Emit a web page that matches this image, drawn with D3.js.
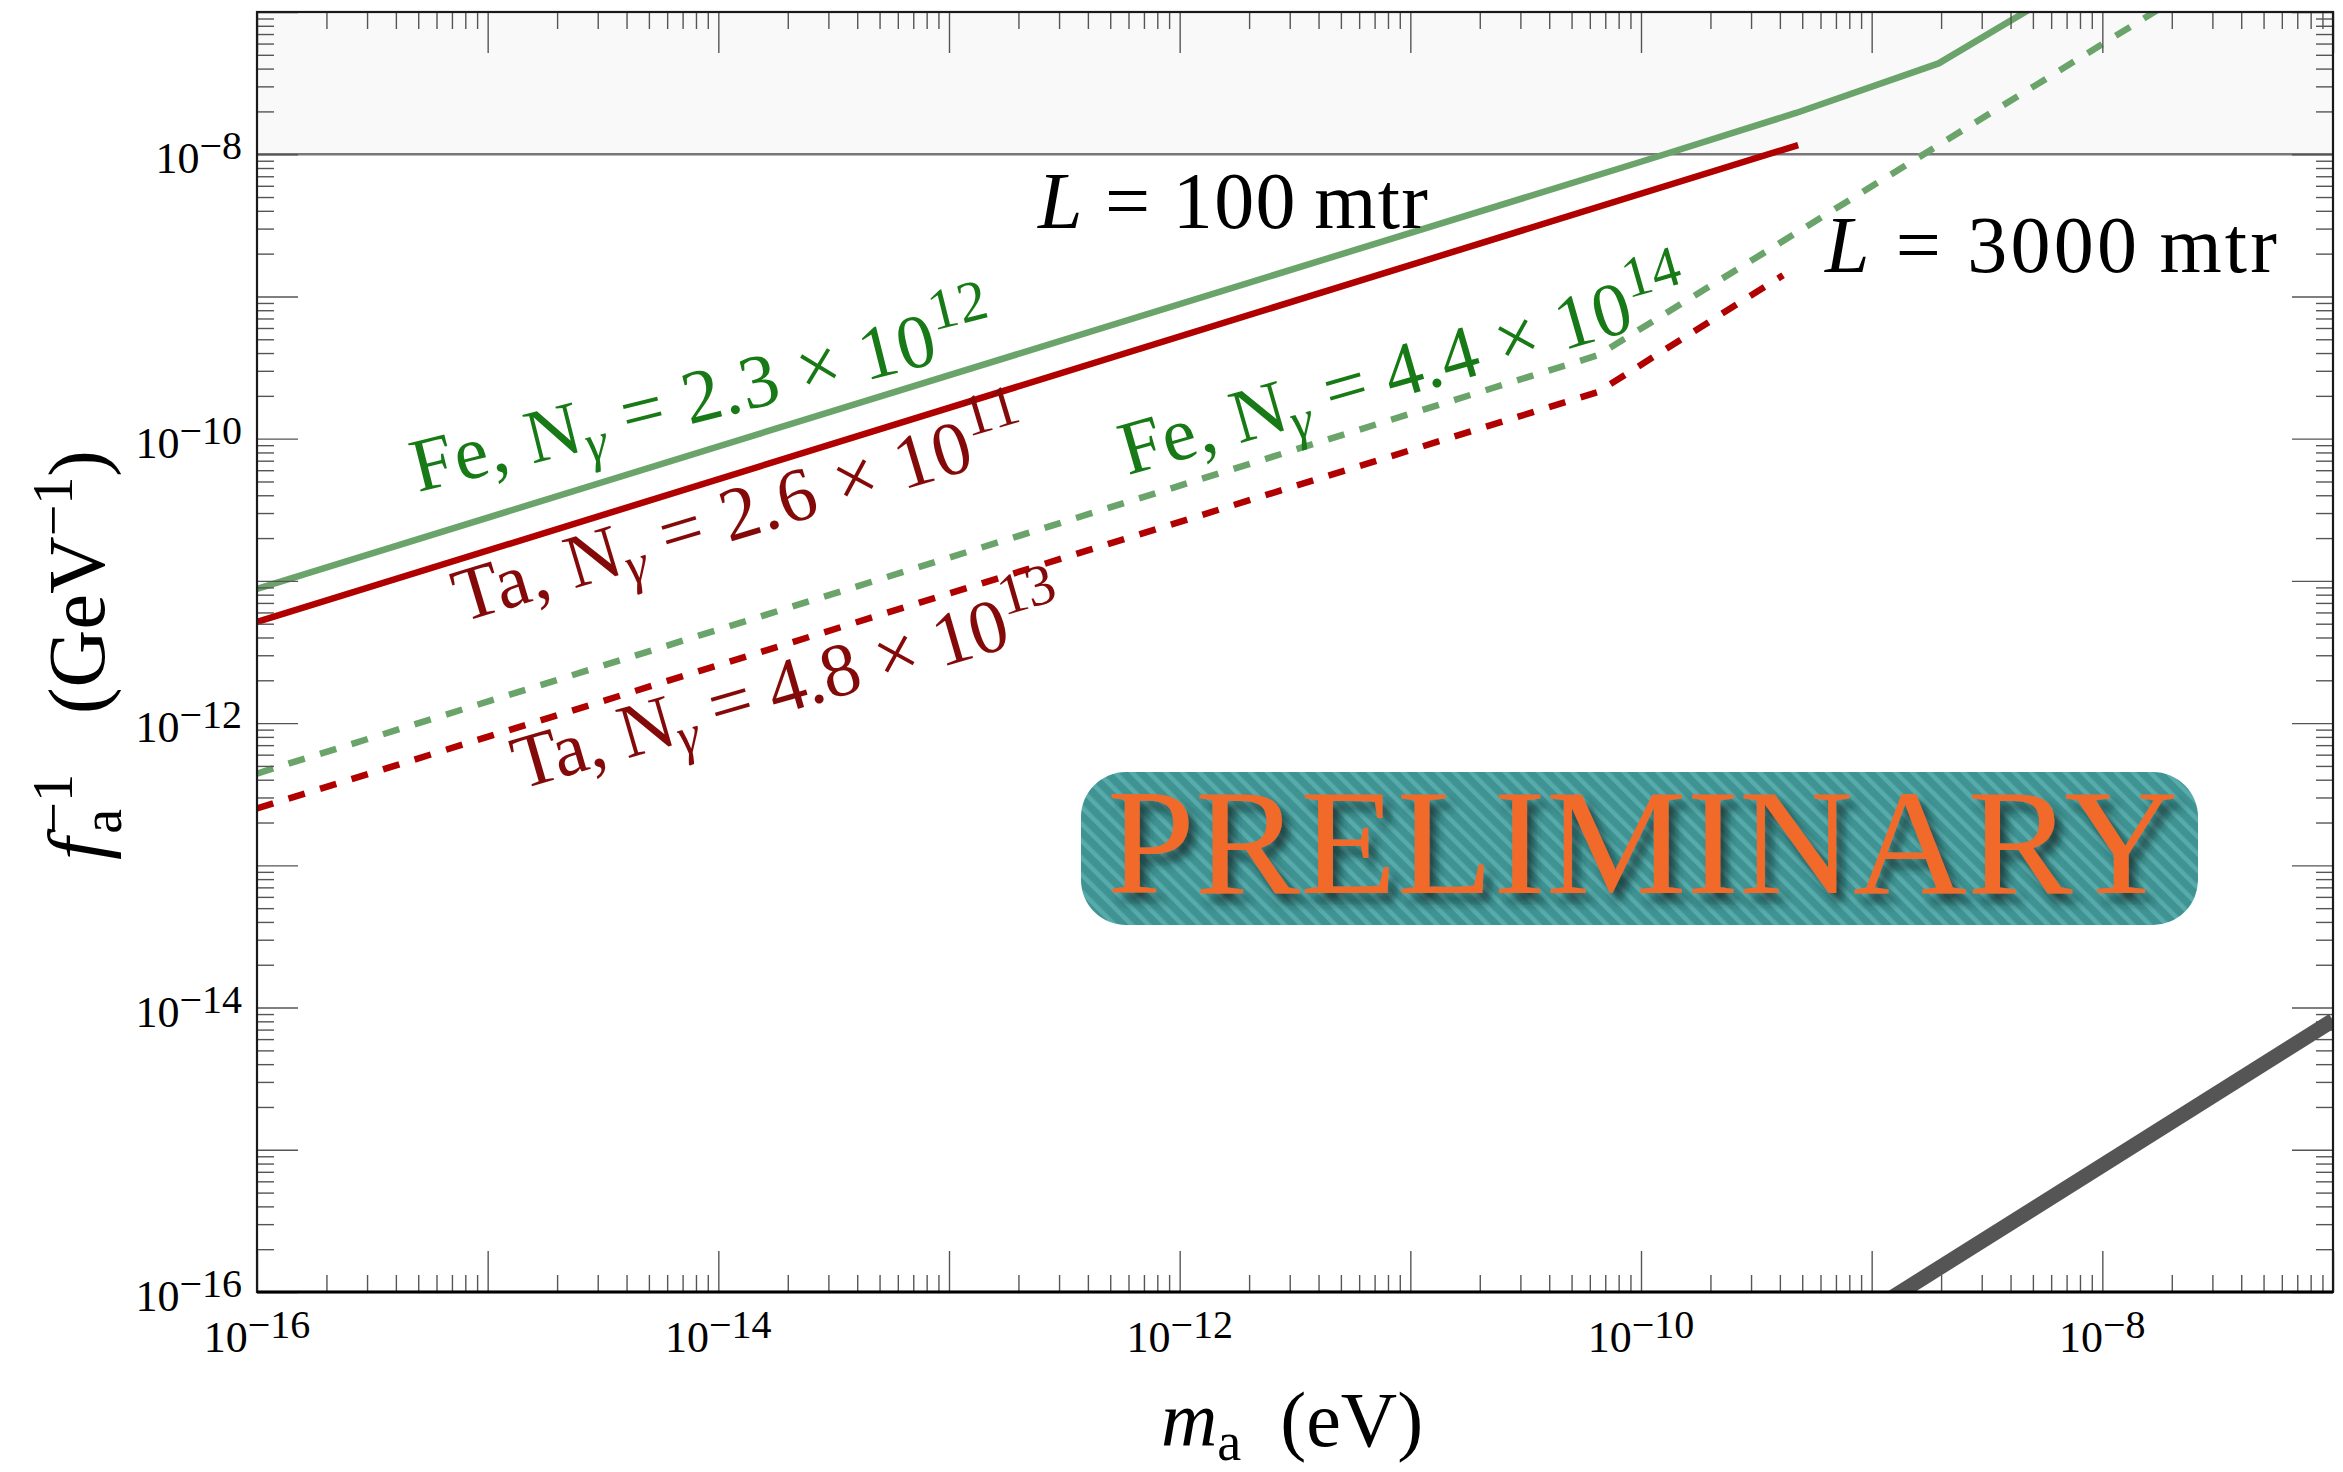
<!DOCTYPE html>
<html><head><meta charset="utf-8">
<script src="https://cdn.jsdelivr.net/npm/d3@7"></script>
<style>
html,body{margin:0;padding:0;background:#fff;}
svg{display:block;}
text{font-family:"Liberation Serif","Times New Roman",serif; white-space:pre;}
</style></head><body>
<svg id="chart" width="2343" height="1472"></svg>
<script>
// ---------------- data ----------------
const xDomain = [1e-16, 1e-7];          // m_a (eV)
const yDomain = [1e-16, 1e-7];          // f_a^-1 (GeV^-1)
const xTickLabelExps = [-16, -14, -12, -10, -8];
const yTickLabelExps = [-16, -14, -12, -10, -8];
const bandLower = 1e-8;

// Fe, L = 100 m (solid green)
const feL100_m = [1e-16, 1e-10, 4.7e-10, 1.95e-9, 1e-8];
const feL100_f = [8.8e-12, 8.85e-9, 1.95e-8, 4.35e-8, 2.1e-7];
// Ta, L = 100 m (solid red)
const taL100_m = [1e-16, 4.8e-10];
const taL100_f = [5.14e-12, 1.16e-8];
// Fe, L = 3000 m (dashed green)
const feL3000_m = [1e-16, 6.5e-11, 2e-8];
const feL3000_f = [4.42e-13, 3.86e-10, 1.19e-7];
// Ta, L = 3000 m (dashed red)
const taL3000_m = [1e-16, 6.5e-11, 4.13e-10];
const taL3000_f = [2.51e-13, 2.13e-10, 1.41e-9];
// thick gray reference line
const grayLine_m = [1e-9, 1e-7];
const grayLine_f = [7.43e-17, 8.13e-15];

// ---------------- layout ----------------
const svg = d3.select("#chart");
const L = 257, R = 2333, T = 12, B = 1292;
const x = d3.scaleLog().domain(xDomain).range([L, R]);
const y = d3.scaleLog().domain(yDomain).range([B, T]);

const GREEN_LINE = "#6aa46a", RED_LINE = "#b00000";
const GREEN_TEXT = "#187a16", RED_TEXT = "#840a0a";

const defs = svg.append("defs");
defs.append("clipPath").attr("id", "plotclip").append("rect")
  .attr("x", L).attr("y", T).attr("width", R - L).attr("height", B - T);
const pat = defs.append("pattern").attr("id", "stripes")
  .attr("patternUnits", "userSpaceOnUse").attr("width", 12).attr("height", 12)
  .attr("patternTransform", "rotate(-45)");
pat.append("rect").attr("width", 12).attr("height", 12).attr("fill", "#3f9393");
pat.append("rect").attr("width", 4.5).attr("height", 12).attr("fill", "#58abab");
const flt = defs.append("filter").attr("id", "shadow")
  .attr("x", "-10%").attr("y", "-30%").attr("width", "130%").attr("height", "170%");
flt.append("feDropShadow").attr("dx", 7).attr("dy", 9).attr("stdDeviation", 5)
  .attr("flood-color", "#0d2b2b").attr("flood-opacity", 0.75);

// band above 1e-8
svg.append("rect").attr("x", L).attr("y", T).attr("width", R - L)
  .attr("height", y(bandLower) - T).attr("fill", "#f9f9f9");
svg.append("line").attr("x1", L).attr("x2", R)
  .attr("y1", y(bandLower)).attr("y2", y(bandLower))
  .attr("stroke", "#777").attr("stroke-width", 2.5);

// lines
const zip = (ms, fs) => ms.map((m, i) => ({ m, f: fs[i] }));
const line = d3.line().x(d => x(d.m)).y(d => y(d.f));
const plot = svg.append("g").attr("clip-path", "url(#plotclip)");
plot.append("path").datum(zip(grayLine_m, grayLine_f)).attr("d", line)
  .attr("fill", "none").attr("stroke", "#555").attr("stroke-width", 15);
plot.append("path").datum(zip(feL3000_m, feL3000_f)).attr("d", line)
  .attr("fill", "none").attr("stroke", GREEN_LINE).attr("stroke-width", 6.5)
  .attr("stroke-dasharray", "17,16");
plot.append("path").datum(zip(taL3000_m, taL3000_f)).attr("d", line)
  .attr("fill", "none").attr("stroke", RED_LINE).attr("stroke-width", 6.5)
  .attr("stroke-dasharray", "17,16");
plot.append("path").datum(zip(feL100_m, feL100_f)).attr("d", line)
  .attr("fill", "none").attr("stroke", GREEN_LINE).attr("stroke-width", 6.5);
plot.append("path").datum(zip(taL100_m, taL100_f)).attr("d", line)
  .attr("fill", "none").attr("stroke", RED_LINE).attr("stroke-width", 6.5);

// ---------------- ticks ----------------
function logTicks(dom) {
  const major = [], minor = [];
  const e0 = Math.floor(Math.log10(dom[0])), e1 = Math.ceil(Math.log10(dom[1]));
  for (let e = e0; e <= e1; e++) for (let k = 1; k <= 9; k++) {
    const v = +(k + "e" + e);
    if (v < dom[0] * 0.999 || v > dom[1] * 1.001) continue;
    (k === 1 ? major : minor).push(v);
  }
  return { major, minor };
}
const xt = logTicks(xDomain), yt = logTicks(yDomain);
function drawAxis(gen, tr) {
  svg.append("g").attr("transform", tr).call(gen).call(s => {
    s.select(".domain").remove();
    s.selectAll("text").remove();
    s.selectAll("line").attr("stroke", "#555").attr("stroke-width", 1.4);
  });
}
[[xt.major, 41], [xt.minor, 17]].forEach(([vals, len]) => {
  drawAxis(d3.axisBottom(x).tickValues(vals).tickSize(-len).tickFormat(""), `translate(0,${B})`);
  drawAxis(d3.axisTop(x).tickValues(vals).tickSize(-len).tickFormat(""), `translate(0,${T})`);
});
[[yt.major, 41], [yt.minor, 17]].forEach(([vals, len]) => {
  drawAxis(d3.axisLeft(y).tickValues(vals).tickSize(-len).tickFormat(""), `translate(${L},0)`);
  drawAxis(d3.axisRight(y).tickValues(vals).tickSize(-len).tickFormat(""), `translate(${R},0)`);
});
// frame
svg.append("rect").attr("x", L).attr("y", T).attr("width", R - L).attr("height", B - T)
  .attr("fill", "none").attr("stroke", "#1a1a1a").attr("stroke-width", 2.2);
svg.append("line").attr("x1", L).attr("x2", R).attr("y1", B).attr("y2", B)
  .attr("stroke", "#000").attr("stroke-width", 3);

// ---------------- math-like text helper ----------------
function mathText(parent, pieces, attrs) {
  const t = parent.append("text");
  Object.entries(attrs).forEach(([k, v]) => t.attr(k, v));
  let cur = 0, prev = null;
  pieces.forEach(p => {
    const ts = t.append("tspan").text(p.t);
    if (p.size) ts.attr("font-size", p.size);
    if (p.italic) ts.attr("font-style", "italic");
    const shift = p.shift || 0;
    if (shift - cur !== 0) ts.attr("dy", shift - cur);
    cur = shift;
    if (p.back && prev) ts.attr("dx", -prev.node().getComputedTextLength());
    else if (p.dx) ts.attr("dx", p.dx);
    prev = ts;
  });
  return t;
}

// tick labels
xTickLabelExps.forEach(e => {
  mathText(svg, [{ t: "10" }, { t: "\u2212" + (-e), size: 40, shift: -14 }],
    { x: x(+("1e" + e)), y: 1352, "text-anchor": "middle", "font-size": 44, fill: "#000" });
});
yTickLabelExps.forEach(e => {
  mathText(svg, [{ t: "10" }, { t: "\u2212" + (-e), size: 40, shift: -14 }],
    { x: 242, y: y(+("1e" + e)) + 19, "text-anchor": "end", "font-size": 44, fill: "#000" });
});

// axis titles
mathText(svg, [
  { t: "m", italic: true }, { t: "a", size: 54, shift: 14 }, { t: "  (eV)" }
], { x: 1292, y: 1446, "text-anchor": "middle", "font-size": 78, fill: "#000" });

const yt_g = svg.append("g").attr("transform", "translate(104,655) rotate(-90)");
mathText(yt_g, [
  { t: "f", italic: true }, { t: "a", size: 56, shift: 17, dx: 4 },
  { t: "\u22121", size: 56, shift: -32, back: true },
  { t: "   (GeV" }, { t: "\u22121", size: 56, shift: -32 }, { t: ")" }
], { x: 0, y: 0, "text-anchor": "middle", "font-size": 80, fill: "#000",
     textLength: 410, lengthAdjust: "spacing" });

// L labels
const lLabels = [
  { txt: "100", m: 2.43e-13, f: 3.02e-9, len: 390 },
  { txt: "3000", m: 6.27e-10, f: 1.48e-9, len: 452 }
];
lLabels.forEach(d => {
  mathText(svg, [{ t: "L", italic: true }, { t: " = " + d.txt + "\u2009mtr" }],
    { x: x(d.m), y: y(d.f), "font-size": 80, fill: "#000",
      textLength: d.len, lengthAdjust: "spacing" });
});

// curve labels
const curveLabels = [
  { el: "Fe", n: "2.3", p: "12", m: 4.99e-16, f: 4.2e-11, angle: -14, color: GREEN_TEXT, len: 598 },
  { el: "Ta", n: "2.6", p: "11", m: 7.74e-16, f: 5.12e-12, angle: -16.7, color: RED_TEXT, len: 595 },
  { el: "Fe", n: "4.4", p: "14", m: 5.96e-13, f: 5.53e-11, angle: -16, color: GREEN_TEXT, len: 588 },
  { el: "Ta", n: "4.8", p: "13", m: 1.39e-15, f: 3.42e-13, angle: -16.2, color: RED_TEXT, len: 570 }
];
curveLabels.forEach(d => {
  const g = svg.append("g").attr("transform", `translate(${x(d.m)},${y(d.f)}) rotate(${d.angle})`);
  mathText(g, [
    { t: d.el + ", N" }, { t: "\u03b3", italic: true, size: 54, shift: 13 },
    { t: " = " + d.n + " \u00d7 10" }, { t: d.p, size: 58, shift: -32 }
  ], { x: 0, y: 0, "font-size": 76, fill: d.color, textLength: d.len, lengthAdjust: "spacing" });
});

// PRELIMINARY stamp
const bx = 1081, by = 772, bw = 1117, bh = 153;
svg.append("rect").attr("x", bx).attr("y", by).attr("width", bw).attr("height", bh)
  .attr("rx", 45).attr("ry", 45).attr("fill", "url(#stripes)");
svg.append("text").attr("x", 1107).attr("y", 893).attr("font-size", 150)
  .attr("textLength", 1071).attr("lengthAdjust", "spacingAndGlyphs")
  .attr("fill", "#f26a2a").attr("filter", "url(#shadow)").text("PRELIMINARY");
</script>
</body></html>
